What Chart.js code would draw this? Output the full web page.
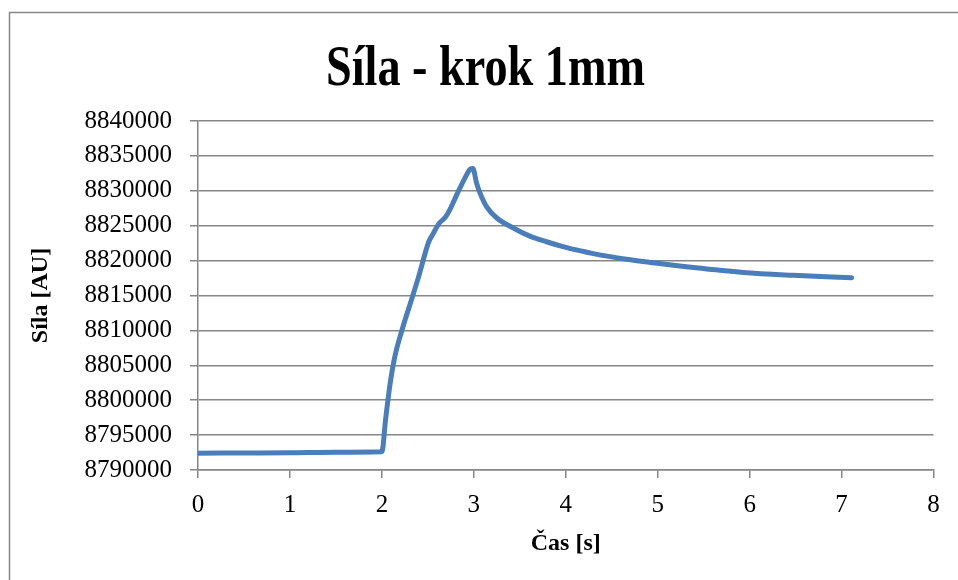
<!DOCTYPE html>
<html>
<head>
<meta charset="utf-8">
<script src="https://cdn.jsdelivr.net/npm/chart.js@4/dist/chart.umd.min.js"></script>
<style>
    body { margin: 0; background: #fff; }
    #wrap { width: 958px; height: 580px; }
</style>
</head>
<body>
<div id="wrap"><canvas id="chartSila"></canvas></div>
<script>
// Síla - krok 1mm
let nadpis = 'Síla - krok 1mm'
let casy = [0, 0.5, 1, 1.5, 2.0, 2.04, 2.09, 2.14, 2.22, 2.31, 2.40, 2.51, 2.56, 2.62, 2.69, 2.74,
    2.82, 2.91, 2.96, 2.99, 3.03, 3.07, 3.14, 3.25, 3.44, 3.61, 3.79, 3.97, 4.16, 4.30, 4.66,
    4.95, 5.39, 5.93, 6.47, 7.11]
let sila = [8792400, 8792440, 8792480, 8792550, 8792620, 8797200, 8802400, 8806200, 8810100,
    8813900, 8817700, 8822700, 8823900, 8825300, 8826200, 8827300, 8829600, 8832000, 8833100,
    8833200, 8831100, 8829600, 8827700, 8826100, 8824600, 8823500, 8822700, 8822000, 8821400,
    8821000, 8820200, 8819700, 8819000, 8818300, 8817900, 8817550]
let yTicks = [8790000, 8795000, 8800000, 8805000, 8810000, 8815000, 8820000, 8825000, 8830000, 8835000, 8840000]
let xTicks = [0, 1, 2, 3, 4, 5, 6, 7, 8]

let data = []
casy.forEach(function(t, i) {
    data.push({ x: t, y: sila[i] })
})

// outer frame (left + top only) and the condensed bold title
const ramecek = {
    id: 'ramecek',
    beforeDraw: function(chart) {
        let c = chart.ctx
        c.save()
        c.strokeStyle = '#878787'
        c.lineWidth = 1.5
        c.beginPath()
        c.moveTo(9.5, 580)
        c.lineTo(9.5, 12.5)
        c.lineTo(958, 12.5)
        c.stroke()
        c.restore()
    },
    afterDraw: function(chart) {
        let c = chart.ctx
        c.save()
        c.font = 'bold 58px "Liberation Serif"'
        c.fillStyle = '#000'
        c.textAlign = 'center'
        c.textBaseline = 'alphabetic'
        let w = c.measureText(nadpis).width
        let sx = 319 / w
        c.translate(485.5, 85)
        c.scale(sx, 1)
        c.fillText(nadpis, 0, 0)
        c.restore()
    }
}

let grid = '#868686'
var ctx = document.getElementById('chartSila').getContext('2d')
var chart = new Chart(ctx, {
    type: 'scatter',
    data: {
        datasets: [{
            label: 'Síla',
            data: data,
            showLine: true,
            borderColor: '#4a7ebb',
            borderWidth: 5,
            pointRadius: 0,
            cubicInterpolationMode: 'monotone',
            borderCapStyle: 'round',
            borderJoinStyle: 'round'
        }]
    },
    options: {
        responsive: true,
        maintainAspectRatio: false,
        animation: false,
        layout: { padding: { left: 0, right: 24.5, top: 121, bottom: 0 } },
        plugins: {
            legend: { display: false },
            tooltip: { enabled: false },
            title: { display: false }
        },
        scales: {
            x: {
                type: 'linear',
                min: 0,
                max: 8,
                afterBuildTicks: function(scale) {
                    scale.ticks = xTicks.map(function(v) { return { value: v } })
                },
                afterFit: function(scale) { scale.height = 110 },
                grid: { drawOnChartArea: false, color: grid, lineWidth: 1.5, tickLength: 8 },
                border: { color: grid, width: 1.5 },
                ticks: {
                    color: '#000',
                    padding: 12,
                    font: { family: 'Liberation Serif', size: 25 }
                },
                title: {
                    display: true,
                    text: 'Čas [s]',
                    color: '#000',
                    font: { family: 'Liberation Serif', size: 24, weight: 'bold', lineHeight: 1.2 },
                    padding: { top: 0, bottom: 21.6 }
                }
            },
            y: {
                min: 8790000,
                max: 8840000,
                afterBuildTicks: function(scale) {
                    scale.ticks = yTicks.map(function(v) { return { value: v } })
                },
                afterFit: function(scale) { scale.width = 198 },
                grid: { color: grid, lineWidth: 1.5, tickLength: 8 },
                border: { color: grid, width: 1.5 },
                ticks: {
                    color: '#000',
                    padding: 18,
                    font: { family: 'Liberation Serif', size: 25 },
                    callback: function(v) { return v.toString() }
                },
                title: {
                    display: true,
                    text: 'Síla [AU]',
                    color: '#000',
                    font: { family: 'Liberation Serif', size: 24, weight: 'bold', lineHeight: 1.2 },
                    padding: { top: 26.6, bottom: 0 }
                }
            }
        }
    },
    plugins: [ramecek]
})
</script>
</body>
</html>
